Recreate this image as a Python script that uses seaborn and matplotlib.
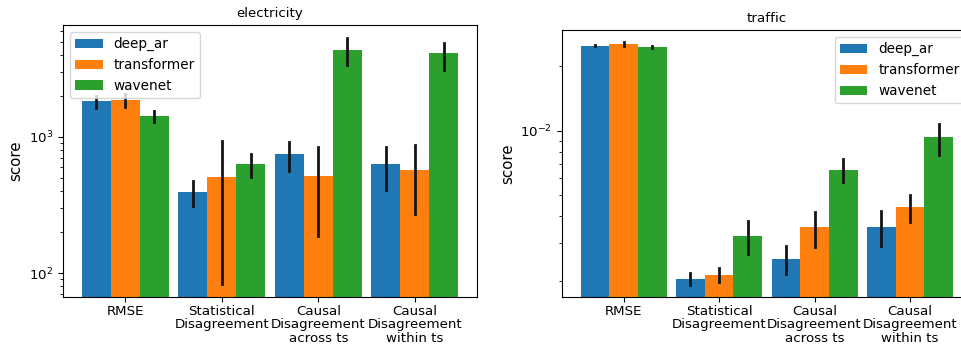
import pandas as pd
import matplotlib
matplotlib.use("Agg")
import matplotlib.pyplot as plt
import seaborn as sns

metrics = ["RMSE", "Statistical\nDisagreement", "Causal\nDisagreement\nacross ts",
           "Causal\nDisagreement\nwithin ts"]
models = ["deep_ar", "transformer", "wavenet"]

# electricity: bar height, lower and upper end of error bar (per model, per metric)
elec_score = [[1830, 394, 743, 627],
              [1870, 506, 517, 572],
              [1420, 627, 4335, 4100]]
elec_lo = [[1618, 311, 562, 410],
           [1645, 82.6, 188, 270],
           [1276, 508, 3365, 3110]]
elec_hi = [[2000, 472, 910, 840],
           [2050, 930, 840, 873],
           [1546, 743, 5350, 4910]]

# traffic
traf_score = [[0.02506, 2.04e-3, 2.52e-3, 3.55e-3],
              [0.02541, 2.12e-3, 3.55e-3, 4.40e-3],
              [0.02469, 3.23e-3, 6.59e-3, 9.35e-3]]
traf_lo = [[0.02490, 1.91e-3, 2.15e-3, 2.90e-3],
           [0.02506, 1.96e-3, 2.87e-3, 3.74e-3],
           [0.02450, 2.65e-3, 5.78e-3, 7.75e-3]]
traf_hi = [[0.02522, 2.18e-3, 2.90e-3, 4.21e-3],
           [0.02597, 2.30e-3, 4.17e-3, 5.01e-3],
           [0.02485, 3.80e-3, 7.42e-3, 1.075e-2]]


def to_frame(score, lo, hi):
    rows = []
    for i, m in enumerate(models):
        for j, met in enumerate(metrics):
            for v in (lo[i][j], score[i][j], hi[i][j]):
                rows.append({"metric": met, "model": m, "score": v})
    return pd.DataFrame(rows)


plt.rcParams["font.size"] = 9.6

fig = plt.figure(figsize=(9.61, 3.44), dpi=100)
ax1 = fig.add_axes([0.0656, 0.1366, 0.4308, 0.7907])
ax2 = fig.add_axes([0.5848, 0.1357, 0.4263, 0.7770])

panels = [
    (ax1, to_frame(elec_score, elec_lo, elec_hi), "electricity", (66.7, 6624), "upper left"),
    (ax2, to_frame(traf_score, traf_lo, traf_hi), "traffic", (1.67e-3, 2.96e-2), "upper right"),
]

for ax, df, title, ylim, loc in panels:
    sns.barplot(data=df, x="metric", y="score", hue="model", ax=ax,
                estimator="median", errorbar=lambda v: (v.min(), v.max()),
                width=0.9, saturation=1,
                err_kws={"color": "0.08", "linewidth": 2.0})
    ax.set_yscale("log")
    ax.set_ylim(*ylim)
    ax.set_xlim(-0.645, 3.645)
    ax.set_xlabel("")
    ax.set_ylabel("score", fontsize=10.8)
    ax.set_title(title, fontsize=9.6)
    ax.tick_params(axis="x", pad=2)
    plt.setp(ax.get_xticklabels(), linespacing=1.05)
    sns.move_legend(ax, loc, title=None, fontsize=9.8)

fig.savefig("out.png", dpi=100)
